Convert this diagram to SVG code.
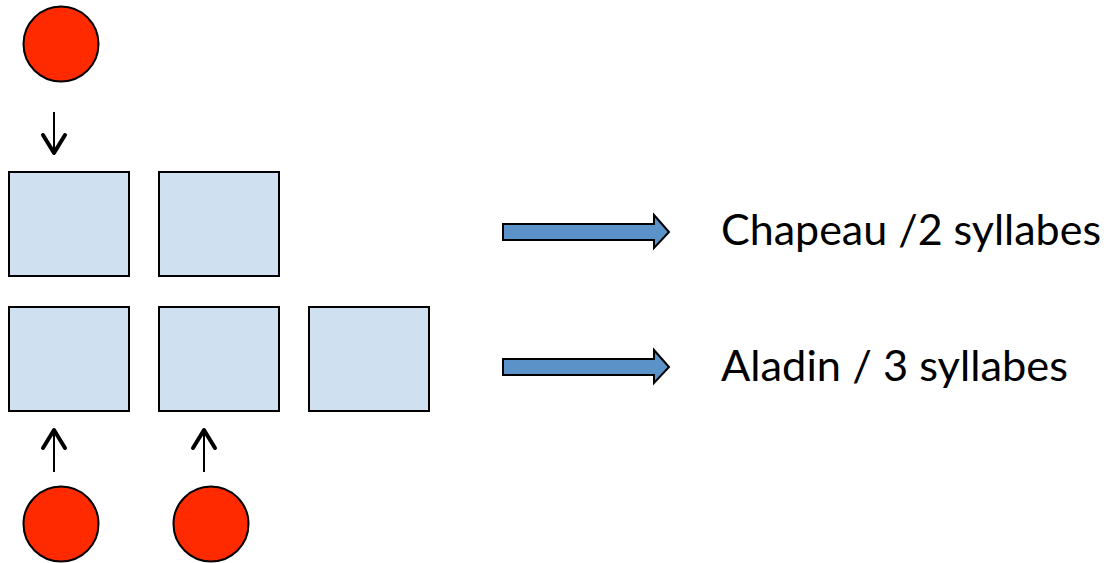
<svg xmlns="http://www.w3.org/2000/svg" width="1113" height="563" viewBox="0 0 1113 563">
<style>
.dot{fill:#ff2a00;stroke:#000;stroke-width:2}
.box{fill:#cfe0f1;stroke:#000;stroke-width:2}
.big{fill:#5b93c8;stroke:#000;stroke-width:2;stroke-linejoin:miter}
.ln{stroke:#000;stroke-width:2;fill:none}
.hd{stroke:#000;stroke-width:4;fill:none;stroke-linecap:round;stroke-linejoin:round}
.lbl{font-family:Lato,"Open Sans","Liberation Sans",sans-serif;font-size:43px;fill:#000}
</style>
<rect width="1113" height="563" fill="#fff"/>
<g id="dot1"><circle class="dot" cx="61" cy="44" r="37.5"/></g>
<g id="dot2"><circle class="dot" cx="61" cy="524" r="37.5"/></g>
<g id="dot3"><circle class="dot" cx="211" cy="524" r="37.5"/></g>
<g id="box1"><rect class="box" x="9" y="172" width="120" height="104"/></g>
<g id="box2"><rect class="box" x="159" y="172" width="120" height="104"/></g>
<g id="box3"><rect class="box" x="9" y="307" width="120" height="104"/></g>
<g id="box4"><rect class="box" x="159" y="307" width="120" height="104"/></g>
<g id="box5"><rect class="box" x="309" y="307" width="120" height="104"/></g>
<g id="connectors">
<line class="ln" x1="54" y1="112" x2="54" y2="153"/>
<polyline class="hd" points="43,135 54,153 65,135"/>
<line class="ln" x1="54" y1="472" x2="54" y2="430"/>
<polyline class="hd" points="43,448 54,430 65,448"/>
<line class="ln" x1="204" y1="472" x2="204" y2="430"/>
<polyline class="hd" points="193,448 204,430 215,448"/>
</g>
<g id="arrow1"><polygon class="big" points="503,224 654,224 654,215 669,232 654,248 654,240 503,240"/></g>
<g id="arrow2"><polygon class="big" points="503,359 654,359 654,350 669,367 654,383 654,375 503,375"/></g>
<g id="label1"><text class="lbl" x="721" y="245" textLength="380" lengthAdjust="spacingAndGlyphs">Chapeau /2 syllabes</text></g>
<g id="label2"><text class="lbl" x="721" y="381" textLength="347" lengthAdjust="spacingAndGlyphs">Aladin / 3 syllabes</text></g>
</svg>
